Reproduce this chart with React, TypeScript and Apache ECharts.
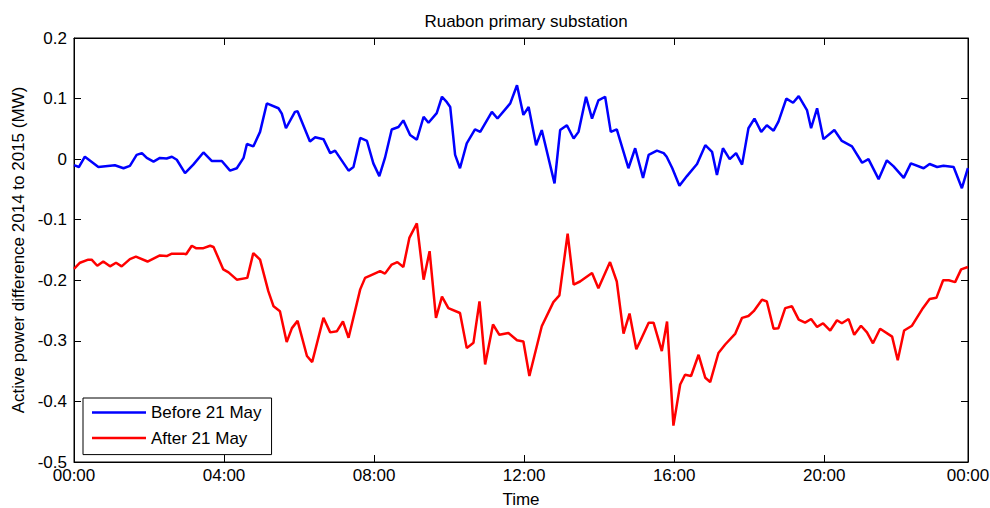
import { useEffect, useRef } from 'react';
import * as echarts from 'echarts';

// [hour of day, MW difference]
const beforeMay21: [number, number][] = [
  [0, -0.01], [0.13, -0.013], [0.29, 0.004], [0.65, -0.013], [1.09, -0.01], [1.32, -0.015],
  [1.49, -0.011], [1.67, 0.007], [1.81, 0.01], [1.94, 0.002], [2.12, -0.004], [2.29, 0.002],
  [2.47, 0.001], [2.61, 0.004], [2.74, -0.001], [2.96, -0.023], [3.18, -0.009], [3.45, 0.011],
  [3.67, -0.003], [3.94, -0.003], [4.16, -0.019], [4.34, -0.015], [4.52, 0.002], [4.61, 0.025],
  [4.78, 0.021], [4.96, 0.045], [5.14, 0.092], [5.45, 0.084], [5.54, 0.075], [5.65, 0.051],
  [5.89, 0.078], [5.96, 0.079], [6.29, 0.029], [6.43, 0.036], [6.65, 0.033], [6.83, 0.01],
  [6.96, 0.014], [7.32, -0.019], [7.45, -0.013], [7.63, 0.035], [7.81, 0.03], [7.98, -0.007],
  [8.14, -0.028], [8.29, 0.002], [8.47, 0.049], [8.65, 0.053], [8.78, 0.064], [8.96, 0.04],
  [9.14, 0.032], [9.32, 0.07], [9.45, 0.06], [9.67, 0.076], [9.81, 0.103], [9.94, 0.094],
  [10.03, 0.086], [10.16, 0.007], [10.29, -0.015], [10.47, 0.026], [10.69, 0.049], [10.83, 0.045],
  [11.14, 0.078], [11.29, 0.067], [11.63, 0.092], [11.81, 0.122], [11.98, 0.073], [12.12, 0.086],
  [12.32, 0.023], [12.47, 0.048], [12.81, -0.04], [12.96, 0.048], [13.14, 0.056], [13.32, 0.034],
  [13.45, 0.045], [13.65, 0.103], [13.81, 0.067], [13.98, 0.097], [14.16, 0.103], [14.31, 0.045],
  [14.47, 0.049], [14.78, -0.015], [14.96, 0.018], [15.17, -0.031], [15.32, 0.007], [15.54, 0.014],
  [15.72, 0.01], [15.8, 0.004], [15.95, -0.015], [16.14, -0.044], [16.34, -0.028], [16.61, -0.008],
  [16.83, 0.023], [17.01, 0.012], [17.14, -0.026], [17.3, 0.018], [17.48, 0], [17.65, 0.01],
  [17.81, -0.009], [17.98, 0.051], [18.14, 0.067], [18.32, 0.045], [18.47, 0.056], [18.65, 0.047],
  [18.78, 0.062], [18.99, 0.1], [19.17, 0.093], [19.32, 0.104], [19.54, 0.081], [19.65, 0.051],
  [19.81, 0.084], [19.98, 0.033], [20.27, 0.048], [20.47, 0.03], [20.74, 0.021], [21.01, -0.006],
  [21.18, 0], [21.45, -0.033], [21.67, -0.002], [21.85, -0.012], [22.12, -0.031], [22.31, -0.007],
  [22.65, -0.015], [22.81, -0.008], [23.01, -0.013], [23.18, -0.011], [23.45, -0.013], [23.67, -0.048],
  [23.83, -0.015],
];

const afterMay21: [number, number][] = [
  [0, -0.181], [0.16, -0.171], [0.38, -0.166], [0.47, -0.166], [0.62, -0.176], [0.78, -0.169],
  [0.96, -0.177], [1.12, -0.171], [1.27, -0.177], [1.49, -0.165], [1.65, -0.161], [1.96, -0.169],
  [2.29, -0.159], [2.47, -0.16], [2.61, -0.156], [2.92, -0.156], [2.99, -0.157], [3.14, -0.143],
  [3.25, -0.147], [3.45, -0.147], [3.63, -0.143], [3.72, -0.145], [3.98, -0.182], [4.12, -0.187],
  [4.34, -0.199], [4.62, -0.196], [4.78, -0.155], [4.96, -0.166], [5.18, -0.218], [5.32, -0.243],
  [5.49, -0.251], [5.67, -0.302], [5.81, -0.279], [5.96, -0.267], [6.21, -0.325], [6.35, -0.335],
  [6.65, -0.262], [6.83, -0.286], [7.01, -0.284], [7.17, -0.268], [7.32, -0.295], [7.63, -0.215],
  [7.76, -0.196], [7.94, -0.191], [8.16, -0.185], [8.29, -0.189], [8.47, -0.174], [8.62, -0.17],
  [8.78, -0.178], [8.94, -0.13], [9.14, -0.106], [9.32, -0.199], [9.48, -0.152], [9.65, -0.262],
  [9.81, -0.227], [9.98, -0.246], [10.29, -0.254], [10.47, -0.312], [10.65, -0.303], [10.81, -0.235],
  [10.96, -0.339], [11.17, -0.273], [11.34, -0.29], [11.58, -0.287], [11.81, -0.299], [11.98, -0.301],
  [12.14, -0.358], [12.47, -0.276], [12.78, -0.236], [12.94, -0.225], [13.16, -0.123], [13.32, -0.207],
  [13.49, -0.202], [13.81, -0.188], [13.98, -0.213], [14.29, -0.17], [14.47, -0.202], [14.65, -0.288],
  [14.81, -0.255], [14.99, -0.314], [15.09, -0.301], [15.32, -0.27], [15.45, -0.27], [15.67, -0.317],
  [15.81, -0.268], [15.98, -0.44], [16.16, -0.372], [16.29, -0.356], [16.45, -0.358], [16.65, -0.323],
  [16.83, -0.361], [16.96, -0.368], [17.18, -0.32], [17.36, -0.306], [17.63, -0.288], [17.81, -0.262],
  [17.98, -0.259], [18.12, -0.251], [18.34, -0.232], [18.47, -0.235], [18.65, -0.28], [18.78, -0.279],
  [18.96, -0.246], [19.14, -0.243], [19.32, -0.265], [19.49, -0.27], [19.65, -0.264], [19.81, -0.277],
  [19.97, -0.271], [20.16, -0.283], [20.34, -0.266], [20.47, -0.271], [20.65, -0.264], [20.8, -0.29],
  [20.98, -0.275], [21.14, -0.286], [21.3, -0.304], [21.49, -0.28], [21.81, -0.293], [21.96, -0.332],
  [22.13, -0.283], [22.34, -0.275], [22.63, -0.246], [22.81, -0.231], [22.99, -0.229], [23.17, -0.2],
  [23.32, -0.2], [23.49, -0.203], [23.65, -0.182], [23.83, -0.178],
];

const seriesNames = ['Before 21 May', 'After 21 May'];
const seriesColors = ['#0000ff', '#ff0000'];

const font = 'Liberation Sans, Arial, sans-serif';

function timeLabel(value: number) {
  const h = Math.round(value) % 24;
  return `${h < 10 ? '0' : ''}${h}:00`;
}

function valueLabel(value: number) {
  const v = Math.round(value * 10) / 10;
  return v === 0 ? '0' : String(v);
}

export default function App() {
  const ref = useRef<HTMLDivElement | null>(null);

  useEffect(() => {
    if (!ref.current) return;
    const chart = echarts.init(ref.current, undefined, { renderer: 'svg' });
    const tick = { inside: true, length: 7, lineStyle: { color: '#000' } };
    const line = { onZero: false, lineStyle: { color: '#000', width: 1 } };
    const label = { color: '#000', fontSize: 17, fontFamily: font };
    const nameStyle = { color: '#000', fontSize: 17, lineHeight: 17, fontFamily: font };

    chart.setOption({
      animation: false,
      backgroundColor: '#fff',
      title: {
        text: 'Ruabon primary substation',
        left: 521,
        top: 8,
        textAlign: 'center',
        textStyle: { color: '#000', fontSize: 17, fontWeight: 'normal', fontFamily: font },
      },
      grid: {
        left: 74,
        right: 22,
        top: 38,
        bottom: 46,
        show: true,
        borderColor: '#000',
        borderWidth: 1,
        outerBoundsMode: 'none',
      },
      legend: {
        orient: 'vertical',
        left: 83,
        top: 398,
        padding: [6, 10, 8, 9],
        itemGap: 8.6,
        itemWidth: 54,
        itemHeight: 2.5,
        icon: 'rect',
        backgroundColor: '#fff',
        borderColor: '#000',
        borderWidth: 1,
        textStyle: { color: '#000', fontSize: 17, lineHeight: 17, fontFamily: font },
        data: seriesNames,
      },
      xAxis: [
        {
          type: 'value',
          min: 0,
          max: 23.833,
          interval: 4,
          name: 'Time',
          nameLocation: 'middle',
          nameGap: 29,
          nameTextStyle: nameStyle,
          axisLine: line,
          axisTick: tick,
          splitLine: { show: false },
          axisLabel: { ...label, margin: 5, showMaxLabel: true, formatter: timeLabel },
        },
        {
          type: 'value',
          position: 'top',
          min: 0,
          max: 23.833,
          interval: 4,
          axisLine: line,
          axisTick: tick,
          splitLine: { show: false },
          axisLabel: { show: false },
        },
      ],
      yAxis: [
        {
          type: 'value',
          min: -0.5,
          max: 0.2,
          interval: 0.1,
          name: 'Active power difference 2014 to 2015 (MW)',
          nameLocation: 'middle',
          nameGap: 46,
          nameTextStyle: nameStyle,
          axisLine: line,
          axisTick: tick,
          splitLine: { show: false },
          axisLabel: { ...label, margin: 7, formatter: valueLabel },
        },
        {
          type: 'value',
          position: 'right',
          min: -0.5,
          max: 0.2,
          interval: 0.1,
          axisLine: line,
          axisTick: tick,
          splitLine: { show: false },
          axisLabel: { show: false },
        },
      ],
      series: [beforeMay21, afterMay21].map((data, i) => ({
        name: seriesNames[i],
        type: 'line',
        data,
        symbol: 'none',
        showSymbol: false,
        color: seriesColors[i],
        lineStyle: { color: seriesColors[i], width: 2.5 },
      })),
    });

    return () => chart.dispose();
  }, []);

  return (
    <div
      ref={ref}
      style={{ position: 'absolute', left: 0, top: 0, width: 990, height: 508 }}
    />
  );
}
